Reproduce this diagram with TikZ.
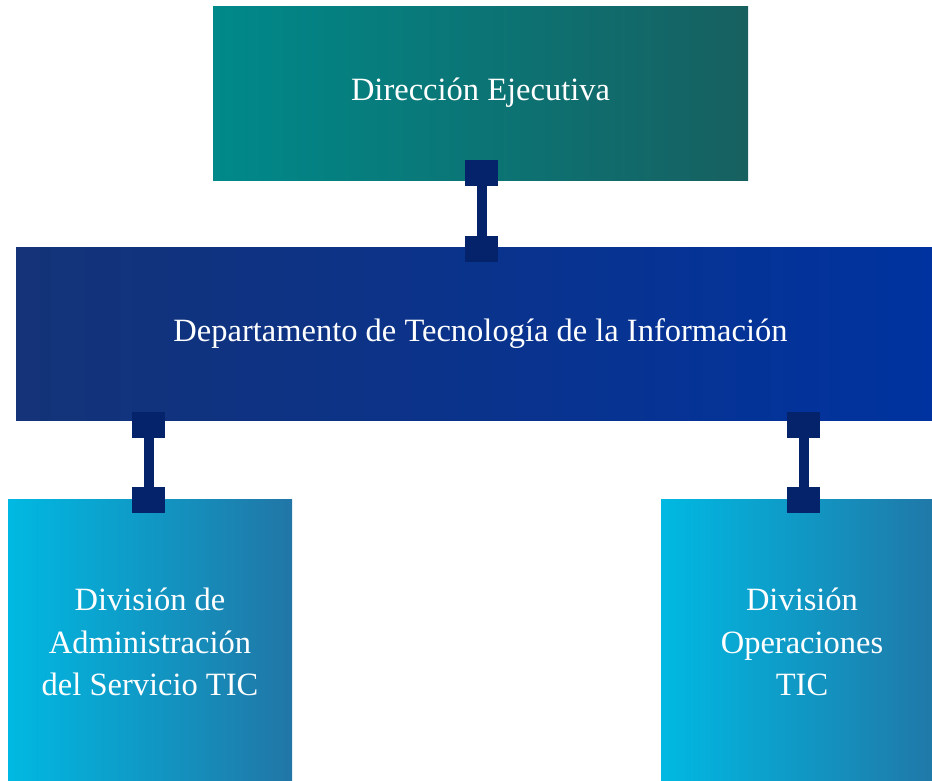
\documentclass[tikz,border=0pt]{standalone}
\usepackage{fontspec}
\setmainfont{Liberation Serif}
\usetikzlibrary{positioning}
\definecolor{tealL}{HTML}{00898A}
\definecolor{tealR}{HTML}{176060}
\definecolor{navyL}{HTML}{143378}
\definecolor{navyR}{HTML}{0033A0}
\definecolor{cyanL}{HTML}{00B9E2}
\definecolor{cyanR}{HTML}{2176A6}
\definecolor{linkblue}{HTML}{04236A}

\begin{document}
\begin{tikzpicture}[x=1pt,y=-1pt,
    unitbox/.style={rectangle,inner sep=0pt,align=center,text=white,
      font=\fontsize{32.5}{42.5}\selectfont},
    knob/.style={rectangle,fill=linkblue,minimum width=33pt,minimum height=26pt,inner sep=0pt,outer sep=0pt},
    stem/.style={draw=linkblue,line width=10pt}]
      \useasboundingbox (0,0) rectangle (932,780);
      \node[unitbox,minimum width=535pt,minimum height=174pt,left color=tealL,right color=tealR] (dir) at (480.5,93) {Dirección Ejecutiva};
      \node[unitbox,minimum width=929pt,minimum height=173pt,left color=navyL,right color=navyR] (dti) at (480.5,333.5) {Departamento de Tecnología de la Información};
      \node[unitbox,minimum width=284pt,minimum height=286pt,left color=cyanL,right color=cyanR] (das) at (150,642) {División de\\Administración\\del Servicio TIC};
      \node[unitbox,minimum width=282pt,minimum height=286pt,left color=cyanL,right color=cyanR] (dop) at (802,642) {División\\Operaciones\\TIC};
      \node[knob] (k1) at (481.5,173) {};
      \node[knob] (k2) at (481.5,249) {};
      \draw[stem] (k1) -- (k2);
      \node[knob] (k3) at (148.5,425) {};
      \node[knob] (k4) at (148.5,500) {};
      \draw[stem] (k3) -- (k4);
      \node[knob] (k5) at (803.5,425) {};
      \node[knob] (k6) at (803.5,500) {};
      \draw[stem] (k5) -- (k6);
    \end{tikzpicture}
\end{document}
